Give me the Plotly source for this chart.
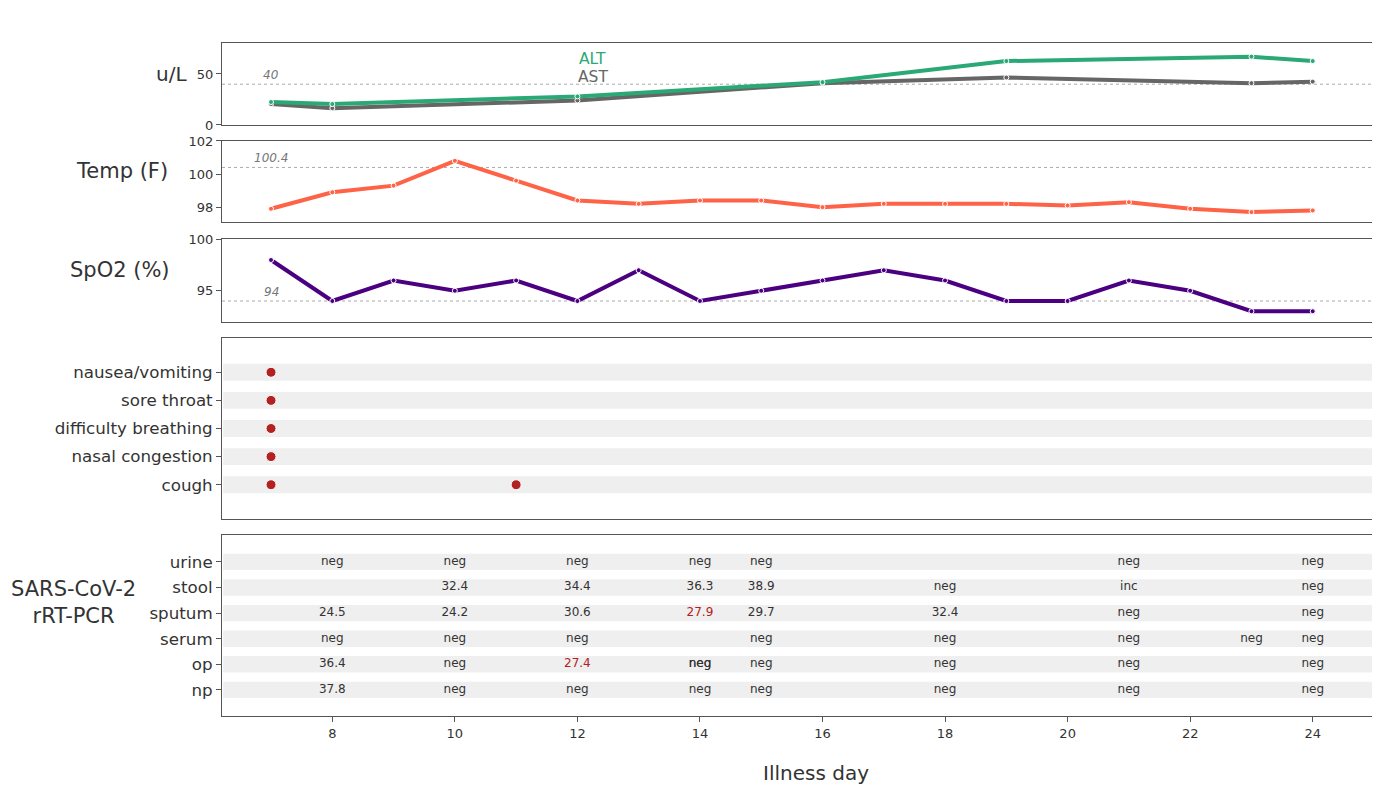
import plotly.graph_objects as go

# ---------------- data ----------------
lab_days = [7, 8, 12, 16, 19, 23, 24]
alt_vals = [22.5, 20.5, 28, 42, 62.7, 67, 62.7]
ast_vals = [20.5, 16.5, 24, 41, 46.5, 41, 42.5]

vit_days = list(range(7, 25))
temp_vals = [97.9, 98.9, 99.3, 100.8, 99.6, 98.4, 98.2, 98.4, 98.4, 98.0,
             98.2, 98.2, 98.2, 98.1, 98.3, 97.9, 97.7, 97.8]
spo2_vals = [98, 94, 96, 95, 96, 94, 97, 94, 95, 96, 97, 96, 94, 94, 96, 95, 93, 93]

symptoms = ["cough", "nasal congestion", "difficulty breathing", "sore throat", "nausea/vomiting"]
symptom_day = [7, 7, 7, 7, 7, 11]
symptom_name = ["nausea/vomiting", "sore throat", "difficulty breathing", "nasal congestion", "cough", "cough"]

specimens = ["np", "op", "serum", "sputum", "stool", "urine"]
pcr_day = [8, 10, 12, 14, 15, 21, 24,
           10, 12, 14, 15, 18, 21, 24,
           8, 10, 12, 14, 15, 18, 21, 24,
           8, 10, 12, 15, 18, 21, 23, 24,
           8, 10, 12, 14, 14, 15, 18, 21, 24,
           8, 10, 12, 14, 15, 18, 21, 24]
pcr_spec = ["urine"] * 7 + ["stool"] * 7 + ["sputum"] * 8 + ["serum"] * 8 + ["op"] * 9 + ["np"] * 8
pcr_result = ["neg", "neg", "neg", "neg", "neg", "neg", "neg",
              "32.4", "34.4", "36.3", "38.9", "neg", "inc", "neg",
              "24.5", "24.2", "30.6", "27.9", "29.7", "32.4", "neg", "neg",
              "neg", "neg", "neg", "neg", "neg", "neg", "neg", "neg",
              "36.4", "neg", "27.4", "neg", "neg", "neg", "neg", "neg", "neg",
              "37.8", "neg", "neg", "neg", "neg", "neg", "neg", "neg"]
pcr_flag = ["27.9", "27.4"]

x_ticks = [8, 10, 12, 14, 16, 18, 20, 22, 24]

# ---------------- styles ----------------
FONT = "DejaVu Sans"
TXT = "#333333"
FRAME = "#555555"
C_ALT = "#2aa876"
C_AST = "#666666"
C_TEMP = "#ff6347"
C_SPO2 = "#4b0082"
C_DOT = "#b22222"
BAND = "#efefef"

fig = go.Figure()

mk = dict(size=5, line=dict(color="white", width=1))
fig.add_trace(go.Scatter(x=lab_days, y=ast_vals, mode="lines+markers", xaxis="x", yaxis="y",
                         line=dict(color=C_AST, width=4), marker=dict(color=C_AST, **mk)))
fig.add_trace(go.Scatter(x=lab_days, y=alt_vals, mode="lines+markers", xaxis="x", yaxis="y",
                         line=dict(color=C_ALT, width=4), marker=dict(color=C_ALT, **mk)))
fig.add_trace(go.Scatter(x=vit_days, y=temp_vals, mode="lines+markers", xaxis="x2", yaxis="y2",
                         line=dict(color=C_TEMP, width=4), marker=dict(color=C_TEMP, **mk)))
fig.add_trace(go.Scatter(x=vit_days, y=spo2_vals, mode="lines+markers", xaxis="x3", yaxis="y3",
                         line=dict(color=C_SPO2, width=4), marker=dict(color=C_SPO2, **mk)))
fig.add_trace(go.Scatter(x=symptom_day, y=symptom_name, mode="markers", xaxis="x4", yaxis="y4",
                         marker=dict(color=C_DOT, size=10, line=dict(color="white", width=1))))
colors = [C_DOT if r in pcr_flag else TXT for r in pcr_result]
fig.add_trace(go.Scatter(x=pcr_day, y=pcr_spec, mode="text", text=pcr_result, xaxis="x5", yaxis="y5",
                         textfont=dict(family=FONT, size=12, color=colors), textposition="middle center"))

# domains (paper coords within plot area)
doms = [(0.8782, 1.0), (0.7340, 0.8544), (0.5854, 0.7088), (0.2927, 0.5617), (0.0, 0.2689)]
XR = [6.2, 25.0]

def xax(show, anchor):
    d = dict(range=XR, domain=[0, 1], anchor=anchor, showgrid=False, zeroline=False,
             showline=True, linecolor=FRAME, linewidth=1, mirror=True,
             tickvals=x_ticks, tickfont=dict(family=FONT, size=13, color=TXT))
    if show:
        d.update(ticks="outside", ticklen=5, tickcolor=FRAME, showticklabels=True)
    else:
        d.update(ticks="", showticklabels=False)
    return d

def yax(dom, anchor, **kw):
    d = dict(domain=list(dom), anchor=anchor, showgrid=False, zeroline=False,
             showline=True, linecolor=FRAME, linewidth=1, mirror=True,
             ticks="outside", ticklen=5, tickcolor=FRAME,
             tickfont=dict(family=FONT, size=13, color=TXT))
    d.update(kw)
    return d

layout = dict(
    width=1372, height=781,
    margin=dict(l=214, r=6, t=35, b=73),
    paper_bgcolor="white", plot_bgcolor="white",
    showlegend=False,
    font=dict(family=FONT, color=TXT),
    xaxis=xax(False, "y"), xaxis2=xax(False, "y2"), xaxis3=xax(False, "y3"),
    xaxis4=xax(False, "y4"), xaxis5=xax(True, "y5"),
    yaxis=yax(doms[0], "x", range=[0, 80.4], tickvals=[0, 50]),
    yaxis2=yax(doms[1], "x2", range=[97.1, 102], tickvals=[98, 100, 102]),
    yaxis3=yax(doms[2], "x3", range=[91.95, 100.05], tickvals=[95, 100]),
    yaxis4=yax(doms[3], "x4", type="category", categoryorder="array", categoryarray=symptoms,
               range=[-1.22, 5.22], tickfont=dict(family=FONT, size=16.7, color=TXT)),
    yaxis5=yax(doms[4], "x5", type="category", categoryorder="array", categoryarray=specimens,
               range=[-1.02, 6.05], tickfont=dict(family=FONT, size=16.7, color=TXT)),
)
fig.update_layout(**layout)

shapes = []
# threshold lines
for yref, val in [("y", 40), ("y2", 100.4), ("y3", 94)]:
    shapes.append(dict(type="line", xref="paper", x0=0, x1=1, yref=yref, y0=val, y1=val,
                       line=dict(color="#aaaaaa", width=1, dash="dot"), layer="below"))
# bands
for i in range(len(symptoms)):
    shapes.append(dict(type="rect", xref="paper", x0=0.001, x1=0.999, yref="y4",
                       y0=i - 0.3, y1=i + 0.3, fillcolor=BAND, line=dict(width=0), layer="below"))
for i in range(len(specimens)):
    shapes.append(dict(type="rect", xref="paper", x0=0.001, x1=0.999, yref="y5",
                       y0=i - 0.32, y1=i + 0.32, fillcolor=BAND, line=dict(width=0), layer="below"))
fig.update_layout(shapes=shapes)

ann = []
# threshold labels
for xref, yref, val, txt in [("x", "y", 40, "40"), ("x2", "y2", 100.4, "100.4"), ("x3", "y3", 94, "94")]:
    ann.append(dict(x=7, y=val, xref=xref, yref=yref, text="<i>%s</i>" % txt, showarrow=False,
                    yanchor="bottom", yshift=0, font=dict(family=FONT, size=12, color="#777777")))
# series labels
ann.append(dict(x=12.25, y=65, xref="x", yref="y", text="ALT", showarrow=False,
                font=dict(family=FONT, size=15.5, color=C_ALT)))
ann.append(dict(x=12.25, y=47, xref="x", yref="y", text="AST", showarrow=False,
                font=dict(family=FONT, size=15.5, color=C_AST)))
# panel titles
ann.append(dict(x=0, y=50, xref="paper", yref="y", text="u/L", showarrow=False, xanchor="right",
                xshift=-33, font=dict(family=FONT, size=20, color=TXT)))
ann.append(dict(x=0, y=100.2, xref="paper", yref="y2", text="Temp (F)", showarrow=False, xanchor="right",
                xshift=-52, font=dict(family=FONT, size=21, color=TXT)))
ann.append(dict(x=0, y=97.05, xref="paper", yref="y3", text="SpO2 (%)", showarrow=False, xanchor="right",
                xshift=-50, font=dict(family=FONT, size=21, color=TXT)))
ann.append(dict(x=0, y=3.4, xref="paper", yref="y5", text="SARS-CoV-2<br>rRT-PCR", showarrow=False,
                xanchor="center", xshift=-149, align="center",
                font=dict(family=FONT, size=21, color=TXT)))
# x title
ann.append(dict(x=0.5156, y=0, xref="paper", yref="paper", text="Illness day", showarrow=False,
                xanchor="center", yanchor="middle", yshift=-57,
                font=dict(family=FONT, size=20, color=TXT)))
fig.update_layout(annotations=ann)

fig.write_html("out.html")
